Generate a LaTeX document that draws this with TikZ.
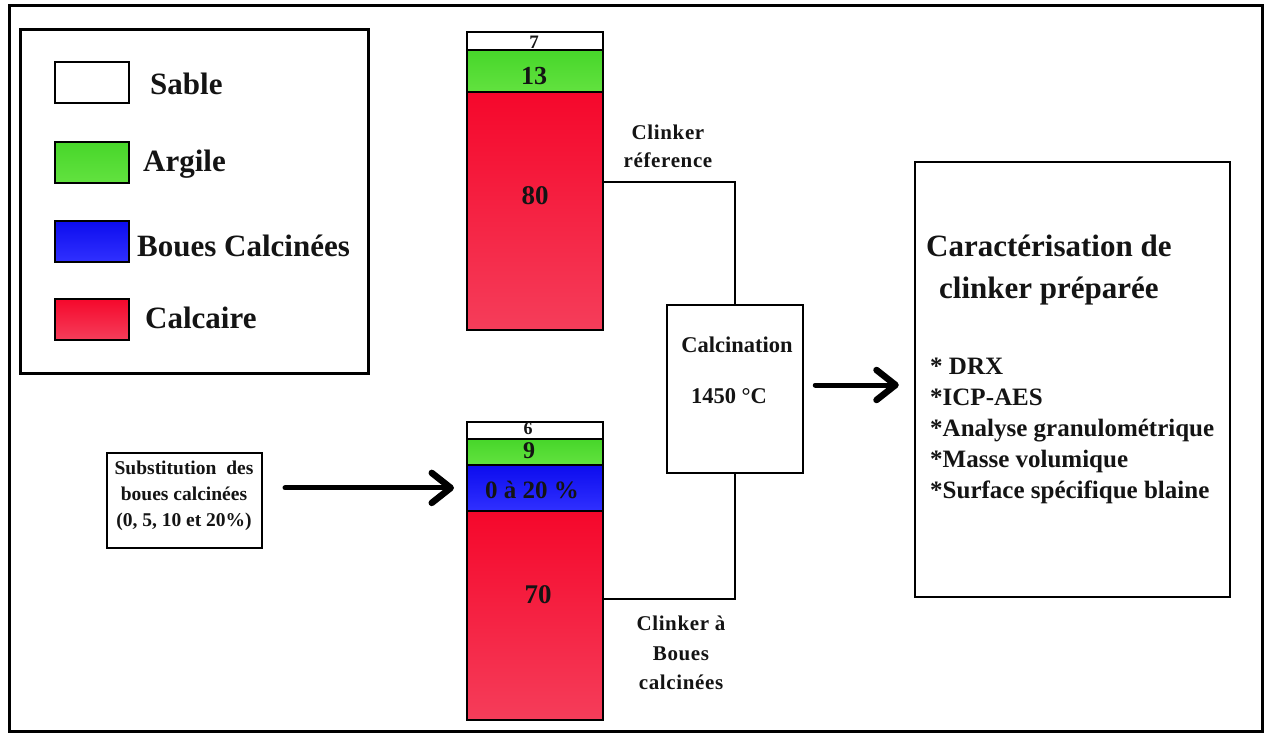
\documentclass[tikz,border=0pt]{standalone}
\usepackage{fontspec}
\setmainfont{Liberation Serif}
\usetikzlibrary{arrows.meta,calc}

\definecolor{redtop}{HTML}{F5072B}
\definecolor{redbot}{HTML}{F53D5A}
\definecolor{greentop}{HTML}{47D62A}
\definecolor{greenbot}{HTML}{62E23F}
\definecolor{bluetop}{HTML}{0C0CEE}
\definecolor{bluebot}{HTML}{3030FF}
\definecolor{ink}{HTML}{141414}

\newcommand{\fs}[2]{\fontsize{#1}{#2}\selectfont\bfseries}
\newcommand{\spaced}{\addfontfeature{LetterSpace=3}}

\tikzset{
  frame/.style={draw=black, line width=3pt},
  box/.style={draw=black, line width=2.5pt, fill=white},
  seg/.style={draw=black, line width=1.8pt, inner sep=0pt, minimum width=136pt, anchor=north west},
  swatch/.style={draw=black, line width=2pt, inner sep=0pt, minimum width=74pt, minimum height=41pt},
  sable/.style={fill=white},
  argile/.style={top color=greentop, bottom color=greenbot},
  boues/.style={top color=bluetop, bottom color=bluebot},
  calcaire/.style={top color=redtop, bottom color=redbot},
  wire/.style={draw=black, line width=2.8pt},
  bigarrow/.style={draw=black, line width=5pt, line cap=round, line join=round,
    -{Straight Barb[length=19pt,width=30pt,line width=6.5pt,round]}},
  lbl/.style={text=ink, inner sep=0pt, align=center},
  legtext/.style={lbl, anchor=west, font=\fs{31}{37}},
}

\begin{document}
\begin{tikzpicture}[x=1pt,y=-1pt]
\useasboundingbox (0,0) rectangle (1268,733);
\fill[white] (0,0) rectangle (1268,733);

% outer frame
\draw[frame] (9,6) rectangle (1262,731);

% legend
\node[box, inner sep=0pt, anchor=north west, minimum width=348pt, minimum height=344pt, line width=3pt] (legend) at (19,28) {};
\node[swatch, sable]    (sw1) at (92,83)  {};
\node[swatch, argile]   (sw2) at (92,162) {};
\node[swatch, boues]    (sw3) at (92,241) {};
\node[swatch, calcaire] (sw4) at (92,319) {};
\node[legtext] (t1) at (150,84)  {Sable};
\node[legtext] (t2) at (143,164) {Argile};
\node[legtext] (t3) at (137,246) {Boues Calcinées};
\node[legtext] (t4) at (145,318) {Calcaire};

% reference raw mix
\node[seg, sable,    minimum height=18pt]  (a1) at (466,31) {};
\node[seg, argile,   minimum height=42pt]  (a2) at (466,49) {};
\node[seg, calcaire, minimum height=238pt] (a3) at (466,91) {};
\node[lbl, font=\fs{19}{22}] at (534,42)  {7};
\node[lbl, font=\fs{26}{30}] at (534,76)  {13};
\node[lbl, font=\fs{27}{30}] at (535,196) {80};

% raw mix with calcined sludge
\node[seg, sable,    minimum height=17pt]  (b1) at (466,421) {};
\node[seg, argile,   minimum height=26pt]  (b2) at (466,438) {};
\node[seg, boues,    minimum height=46pt]  (b3) at (466,464) {};
\node[seg, calcaire, minimum height=209pt] (b4) at (466,510) {};
\node[lbl, font=\fs{18}{20}] at (528,429) {6};
\node[lbl, font=\fs{24}{26}] at (529,451) {9};
\node[lbl, font=\fs{25}{28}] at (532,490) {0 à 20 \%};
\node[lbl, font=\fs{27}{30}] at (538,595) {70};

% calcination furnace
\node[box, inner sep=0pt, minimum width=136pt, minimum height=168pt] (calc) at (735,389) {};
\node[lbl, font=\fs{22.5}{26}] at (737,345) {Calcination};
\node[lbl, font=\fs{22.5}{26}] at (729,396) {1450 °C};

% characterisation box
\node[box, inner sep=0pt, minimum width=315pt, minimum height=435pt] (carac) at (1072.5,379.5) {};
\node[lbl, font=\fs{31}{42}, anchor=north west, align=left] (ctitle) at (926,235)
  {Caractérisation de\\[-0.5pt]\hspace*{13pt}clinker préparée};
\node[lbl, font=\fs{25}{31}, anchor=north west, align=left] (clist) at (930,358)
  {* DRX\\*ICP-AES\\*Analyse granulométrique\\*Masse volumique\\*Surface spécifique blaine};

% substitution box
\node[box, line width=2pt, inner sep=0pt, minimum width=155pt, minimum height=95pt] (subst) at (184.5,500.5) {};
\node[lbl, font=\fs{19.5}{26}] at (184,496)
  {Substitution\ \ des\\boues calcinées\\(0, 5, 10 et 20\%)};

% flow lines
\coordinate (outa) at (602,182);
\coordinate (outb) at (602,599);
\draw[wire] (outa) -| (calc.north);
\draw[wire] (outb) -| (calc.south);
\node[lbl, font=\fs{21}{28}\spaced] at (668,146) {Clinker\\réference};
\node[lbl, font=\fs{21}{29.5}\spaced] at (681,653) {Clinker à\\Boues\\calcinées};

% arrows
\draw[bigarrow] ([xshift=22pt]subst.east |- b3.west) -- ([xshift=-12pt]b3.west);
\draw[bigarrow] ([xshift=11pt]calc.east |- 0,385) -- ([xshift=-15pt]carac.west |- 0,385);
\end{tikzpicture}
\end{document}
